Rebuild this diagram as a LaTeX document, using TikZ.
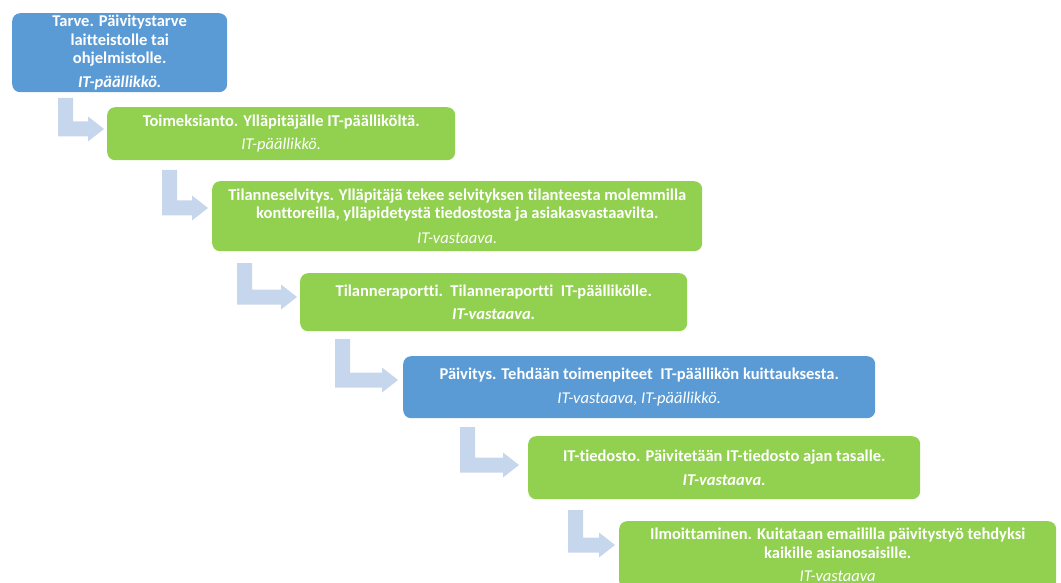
\documentclass[tikz,border=0pt]{standalone}
\usepackage{fontspec}
\setmainfont{Carlito}[Ligatures=NoCommon]
\definecolor{stepblue}{RGB}{91,155,213}
\definecolor{stepgreen}{RGB}{146,208,80}
\definecolor{arrowblue}{RGB}{198,214,236}
\tikzset{
  stepbox/.style={rounded corners=8pt, inner sep=0pt, text=white, align=center,
    font=\fontsize{16.5}{18.5}\selectfont\bfseries, anchor=north west},
  bluebox/.style={stepbox, fill=stepblue},
  greenbox/.style={stepbox, fill=stepgreen},
  bentshape/.style={fill=arrowblue}
}
% bent arrow: left edge of the shaft, top of the shaft, centre of the foot, tip
\newcommand\bentarrow[4]{%
  \fill[bentshape] (#1,#2) -- (#1+15,#2) -- (#1+15,#3-7.5) -- (#4-16,#3-7.5)
    -- (#4-16,#3-12.5) -- (#4,#3) -- (#4-16,#3+12.5) -- (#4-16,#3+7.5)
    -- (#1,#3+7.5) -- cycle;}
\begin{document}
\begin{tikzpicture}[x=1pt,y=-1pt]
\path[use as bounding box] (0,0) rectangle (1061,583);
\clip (0,0) rectangle (1061,583);

\node[bluebox, minimum width=215, minimum height=79] (b1) at (12,13)
  {Tarve. Päivitystarve\\laitteistolle tai\\ohjelmistolle.\\[5pt]\textit{IT-päällikkö.}};
\node[greenbox, minimum width=348, minimum height=53] (b2) at (107,107)
  {Toimeksianto. Ylläpitäjälle IT-päälliköltä.\\[5pt]{\mdseries\itshape IT-päällikkö.}};
\node[greenbox, minimum width=490, minimum height=70] (b3) at (212,181)
  {Tilanneselvitys. Ylläpitäjä tekee selvityksen tilanteesta molemmilla\\konttoreilla, ylläpidetystä tiedostosta ja asiakasvastaavilta.\\[6pt]{\mdseries\itshape IT-vastaava.}};
\node[greenbox, minimum width=387, minimum height=58] (b4) at (300,273)
  {Tilanneraportti.\ \ Tilanneraportti\ \ IT-päällikölle.\\[5pt]\textit{IT-vastaava.}};
\node[bluebox, minimum width=472, minimum height=62] (b5) at (403,356)
  {Päivitys. Tehdään toimenpiteet\ \ IT-päällikön kuittauksesta.\\[5pt]{\mdseries\itshape IT-vastaava, IT-päällikkö.}};
\node[greenbox, minimum width=392, minimum height=63] (b6) at (528,436)
  {IT-tiedosto. Päivitetään IT-tiedosto ajan tasalle.\\[5pt]\textit{IT-vastaava.}};
\node[greenbox, minimum width=437, minimum height=68] (b7) at (619,521)
  {Ilmoittaminen. Kuitataan emaililla päivitystyö tehdyksi\\kaikille asianosaisille.\\[5pt]{\mdseries\itshape IT-vastaava}};

\bentarrow{58}{98}{129}{104}
\bentarrow{162}{170}{208}{208}
\bentarrow{237}{263}{297}{297}
\bentarrow{335}{339}{380}{398}
\bentarrow{460}{427}{465}{519}
\bentarrow{568}{510}{545}{615}
\end{tikzpicture}
\end{document}
